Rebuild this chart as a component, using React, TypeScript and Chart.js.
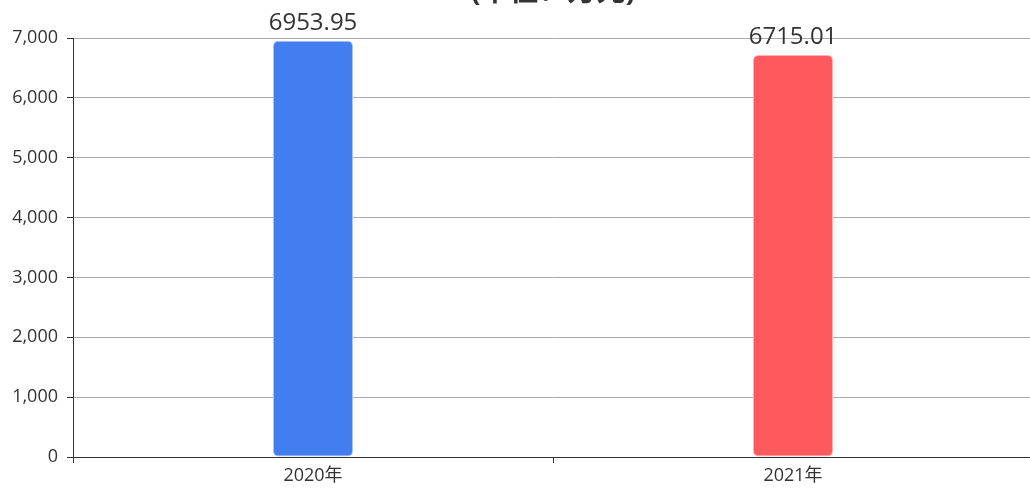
import React, { useEffect, useRef } from "react";
import { Chart, registerables } from "chart.js";

Chart.register(...registerables);

const categories = ["2020年", "2021年"];
const values = [6953.95, 6715.01];
const barColors = ["#437ef1", "#ff585d"];
const barBorders = ["#a9c3f7", "#ffb0b2"];
const titleText = "(单位：万元)";
const FONT = "'Open Sans', 'Noto Sans CJK SC', sans-serif";

const overlayPlugin = {
  id: "overlay",
  afterDatasetsDraw(chart: any) {
    const { ctx, chartArea } = chart;
    ctx.save();
    // title
    ctx.font = `bold 29px ${FONT}`;
    ctx.fillStyle = "#333";
    ctx.textAlign = "center";
    ctx.textBaseline = "alphabetic";
    ctx.fillText(titleText, (chartArea.left + chartArea.right) / 2, 31);
    // labels
    const meta = chart.getDatasetMeta(0);
    ctx.font = `24px ${FONT}`;
    meta.data.forEach((bar: any, i: number) => {
      ctx.fillText(String(values[i]), bar.x, bar.y - 11);
    });
    ctx.restore();
  },
};

export default function App() {
  const ref = useRef<HTMLCanvasElement | null>(null);
  useEffect(() => {
    if (!ref.current) return;
    const chart = new Chart(ref.current, {
      type: "bar",
      data: {
        labels: categories,
        datasets: [
          {
            data: values,
            backgroundColor: barColors,
            borderColor: barBorders,
            borderWidth: 1,
            borderRadius: 5,
            borderSkipped: false,
            barPercentage: 1 / 3,
            categoryPercentage: 0.5,
          },
        ],
      },
      options: {
        animation: false,
        responsive: true,
        maintainAspectRatio: false,
        layout: { padding: { top: 68, right: 7, left: 0, bottom: 0 } },
        plugins: { legend: { display: false }, tooltip: { enabled: false }, title: { display: false } },
        scales: {
          x: {
            offset: true,
            grid: { display: true, drawOnChartArea: false, offset: true, color: "#333", tickLength: 6 },
            border: { display: true, color: "#333", width: 1 },
            ticks: { color: "#333", font: { size: 18, family: FONT }, padding: 2 },
            afterFit: (s: any) => { s.height = 34; },
          },
          y: {
            min: 0,
            max: 7000,
            ticks: {
              stepSize: 1000,
              color: "#333",
              font: { size: 18, family: FONT },
              padding: 9,
              callback: (v: any) => Number(v).toLocaleString("en-US"),
            },
            grid: { color: "#aaaaaa", tickColor: "#333", tickLength: 6 },
            border: { display: true, color: "#333", width: 1 },
            afterFit: (s: any) => { s.width = 73; },
          },
        },
      },
      plugins: [overlayPlugin],
    });
    return () => chart.destroy();
  }, []);
  return (
    <div style={{ position: "fixed", left: 0, top: -30, width: 1040, height: 521 }}>
      <canvas ref={ref} />
    </div>
  );
}
